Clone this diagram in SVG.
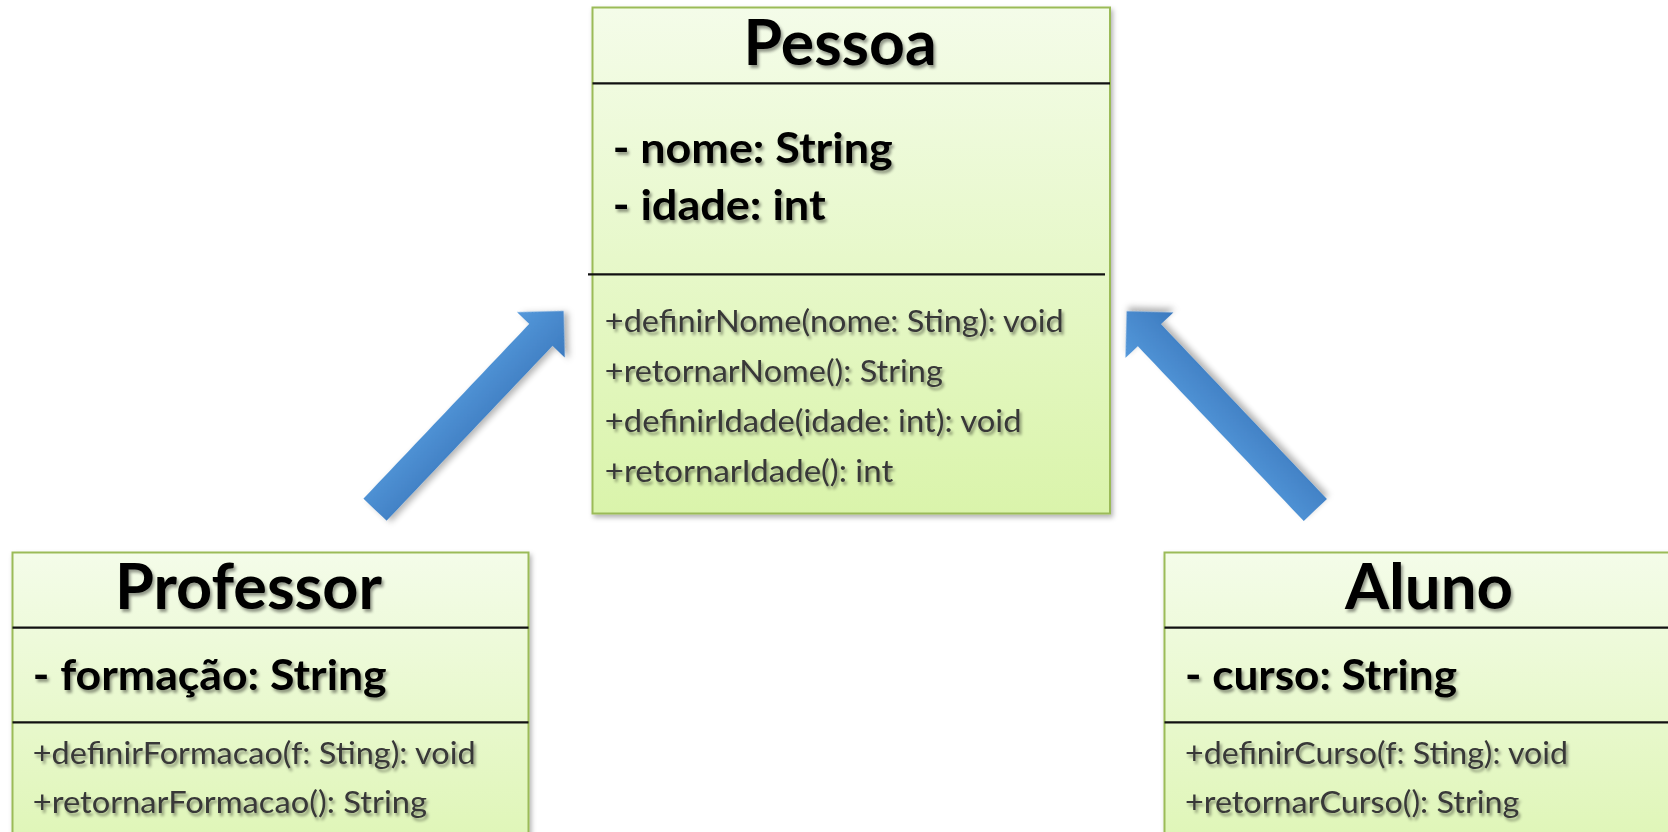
<svg xmlns="http://www.w3.org/2000/svg" width="1668" height="832" viewBox="0 0 1668 832">
  <defs>
    <linearGradient id="boxFill" x1="0" y1="0" x2="0" y2="1">
      <stop offset="0" stop-color="#f4fce9"/>
      <stop offset="1" stop-color="#daf4ab"/>
    </linearGradient>
    <linearGradient id="arrowFill" x1="0" y1="0" x2="0" y2="1">
      <stop offset="0" stop-color="#5599db"/>
      <stop offset="1" stop-color="#3c7abf"/>
    </linearGradient>
    <filter id="boxShadow" x="-5%" y="-5%" width="112%" height="112%">
      <feDropShadow dx="2" dy="3" stdDeviation="2.5" flood-color="#000" flood-opacity="0.3"/>
    </filter>
    <filter id="arrowShadow" x="-20%" y="-20%" width="140%" height="140%">
      <feDropShadow dx="2" dy="4" stdDeviation="3" flood-color="#000" flood-opacity="0.3"/>
    </filter>
    <filter id="txtShadow" x="-5%" y="-20%" width="112%" height="150%">
      <feDropShadow dx="2" dy="3" stdDeviation="1.6" flood-color="#000" flood-opacity="0.4"/>
    </filter>
    <polygon id="arrowShape" points="0,-16 241,-16 241,-33 274,0 241,33 241,16 0,16"/>
  </defs>
  <style>
    .box { fill: url(#boxFill); stroke: #9bbb59; stroke-width: 2; filter: url(#boxShadow); }
    .sep { stroke: #111; stroke-width: 2.2; }
    text { font-family: Lato, "Liberation Sans", sans-serif; filter: url(#txtShadow); }
    .title { font-weight: 700; font-size: 63px; fill: #000; }
    .attr { font-weight: 700; font-size: 42px; fill: #000; }
    .meth { font-weight: 400; font-size: 30px; fill: #383838; }
    .arrow { fill: url(#arrowFill); filter: url(#arrowShadow); }
  </style>

  <rect width="1668" height="832" fill="#fff"/>

  <!-- generalization arrows -->
  <g id="connectors">
    <use href="#arrowShape" class="arrow" transform="translate(375,509.7) rotate(-46.5)"/>
    <use href="#arrowShape" class="arrow" transform="translate(1315.3,510) rotate(-133.5)"/>
  </g>

  <!-- superclass -->
  <g id="pessoa">
    <rect class="box" x="592.5" y="7.5" width="517.5" height="506"/>
    <line class="sep" x1="592.5" y1="83.3" x2="1110" y2="83.3"/>
    <line class="sep" x1="588" y1="274.3" x2="1105" y2="274.3"/>
    <text class="title" x="743.6" y="65" textLength="193" lengthAdjust="spacingAndGlyphs">Pessoa</text>
    <text class="attr" x="612.7" y="163" textLength="280" lengthAdjust="spacingAndGlyphs">- nome: String</text>
    <text class="attr" x="612.7" y="220" textLength="213" lengthAdjust="spacingAndGlyphs">- idade: int</text>
    <text class="meth" x="604.8" y="332" textLength="459" lengthAdjust="spacingAndGlyphs">+definirNome(nome: Sting): void</text>
    <text class="meth" x="604.8" y="381.7" textLength="338" lengthAdjust="spacingAndGlyphs">+retornarNome(): String</text>
    <text class="meth" x="604.8" y="431.7" textLength="416.7" lengthAdjust="spacingAndGlyphs">+definirIdade(idade: int): void</text>
    <text class="meth" x="604.8" y="481.7" textLength="288.5" lengthAdjust="spacingAndGlyphs">+retornarIdade(): int</text>
  </g>

  <!-- subclasses -->
  <g id="professor">
    <rect class="box" x="12.5" y="552.5" width="516" height="360"/>
    <line class="sep" x1="12.5" y1="627.7" x2="528.5" y2="627.7"/>
    <line class="sep" x1="12.5" y1="722.3" x2="528.5" y2="722.3"/>
    <text class="title" x="115" y="609" textLength="267" lengthAdjust="spacingAndGlyphs">Professor</text>
    <text class="attr" x="32.7" y="690" textLength="354" lengthAdjust="spacingAndGlyphs">- formação: String</text>
    <text class="meth" x="32.7" y="764" textLength="443" lengthAdjust="spacingAndGlyphs">+definirFormacao(f: Sting): void</text>
    <text class="meth" x="32.7" y="813" textLength="394.3" lengthAdjust="spacingAndGlyphs">+retornarFormacao(): String</text>
  </g>

  <g id="aluno">
    <rect class="box" x="1164.5" y="552.5" width="540" height="360"/>
    <line class="sep" x1="1164.5" y1="627.7" x2="1668" y2="627.7"/>
    <line class="sep" x1="1164.5" y1="722.3" x2="1668" y2="722.3"/>
    <text class="title" x="1345" y="609" textLength="168" lengthAdjust="spacingAndGlyphs">Aluno</text>
    <text class="attr" x="1185" y="690" textLength="272" lengthAdjust="spacingAndGlyphs">- curso: String</text>
    <text class="meth" x="1185" y="764" textLength="383" lengthAdjust="spacingAndGlyphs">+definirCurso(f: Sting): void</text>
    <text class="meth" x="1185" y="813" textLength="334.3" lengthAdjust="spacingAndGlyphs">+retornarCurso(): String</text>
  </g>
</svg>
